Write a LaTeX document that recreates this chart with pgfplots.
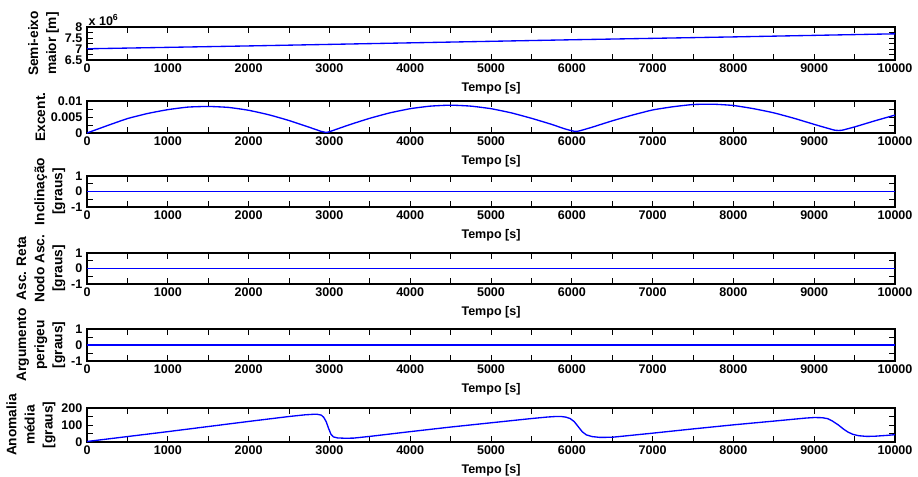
\documentclass[border=0pt]{standalone}
\usepackage{fontspec}
\setmainfont{Liberation Sans}
\usepackage{pgfplots}
\pgfplotsset{compat=1.18}
\newcommand{\myfont}{\bfseries\fontsize{9.4}{12.5}\selectfont}
\newcommand{\ylfont}{\bfseries\fontsize{10.3}{13.6}\selectfont}
\pgfplotsset{
  myax/.style={
    scale only axis, width=606pt, anchor=south west,
    xmin=0, xmax=10000,
    scaled x ticks=false, scaled y ticks=false,
    xtick={0,1000,2000,3000,4000,5000,6000,7000,8000,9000,10000},
    xticklabels={0,1000,2000,3000,4000,5000,6000,7000,8000,9000,10000},
    minor xtick={500,1500,2500,3500,4500,5500,6500,7500,8500,9500},
    tick align=inside,
    major tick length=4.5pt, minor tick length=4.5pt,
    every tick/.style={black, line width=0.6pt},
    every minor tick/.style={black, line width=0.6pt},
    axis line style={line width=0.9pt},
    ticklabel style={font=\myfont},
    xticklabel style={yshift=1pt},
    xlabel={Tempo [s]},
    xlabel style={font=\myfont, yshift=-1pt},
    ylabel style={font=\ylfont, align=center, inner sep=0.8pt},
  },
  ln/.style={blue, line width=1pt, mark=none},
}
\begin{document}
\begin{tikzpicture}
\useasboundingbox (0,0) rectangle (688.5pt,-357pt);
% axis 1
\begin{axis}[myax, at={(65.25pt,-45pt)}, height=24.75pt, clip=false,
  ymin=6.5, ymax=8, ytick={6.5,7,7.5,8}, yticklabels={6.5,7,7.5,8},
  minor ytick={6.75,7.25,7.75},
  ylabel={Semi-eixo\\maior [m]}]
\addplot[ln] coordinates {(0,7.01) (1000,7.075) (2000,7.14) (3000,7.21) (4000,7.28) (5000,7.35) (6000,7.42) (7000,7.485) (8000,7.55) (9000,7.62) (10000,7.69)};
\node[anchor=south west, inner sep=1pt, font=\myfont] at (rel axis cs:0,1) {x 10\textsuperscript{6}};
\end{axis}
% axis 2
\begin{axis}[myax, at={(65.25pt,-99.75pt)}, height=24pt,
  ymin=0, ymax=0.01, ytick={0,0.005,0.01}, yticklabels={0,0.005,0.01},
  minor ytick={0.0025,0.0075},
  ylabel={Excent.}]
\addplot[ln, smooth, tension=0.3] coordinates {(0,0) (250,0.0023) (500,0.0045) (750,0.0061) (1000,0.0073) (1250,0.0081) (1500,0.0083) (1750,0.0080) (2000,0.0071) (2250,0.0057) (2500,0.0039) (2750,0.0018) (2900,0.0005) (2960,0.0002) (3000,0.0004) (3250,0.0026) (3500,0.0046) (3750,0.0063) (4000,0.0076) (4250,0.0084) (4500,0.0087) (4750,0.0084) (5000,0.0076) (5250,0.0063) (5500,0.0046) (5750,0.0027) (5900,0.0014) (6000,0.0007) (6050,0.0005) (6100,0.0007) (6250,0.0018) (6500,0.0038) (6750,0.0056) (7000,0.0072) (7250,0.0082) (7500,0.0089) (7750,0.0090) (8000,0.0086) (8250,0.0076) (8500,0.0063) (8750,0.0046) (9000,0.0027) (9150,0.0016) (9250,0.0009) (9300,0.0008) (9350,0.0009) (9500,0.0019) (9750,0.0038) (10000,0.0056)};
\end{axis}
% axis 3
\begin{axis}[myax, at={(65.25pt,-155.25pt)}, height=23.25pt,
  ymin=-1, ymax=1, ytick={-1,0,1}, yticklabels={-1,0,1}, minor ytick={-0.5,0.5},
  ylabel={Inclinação\\{[graus]}}]
\addplot[ln] coordinates {(0,0) (10000,0)};
\end{axis}
% axis 4
\begin{axis}[myax, at={(65.25pt,-213pt)}, height=23.25pt,
  ymin=-1, ymax=1, ytick={-1,0,1}, yticklabels={-1,0,1}, minor ytick={-0.5,0.5},
  ylabel={Asc. Reta\\Nodo Asc.\\{[graus]}}]
\addplot[ln] coordinates {(0,0) (10000,0)};
\end{axis}
% axis 5
\begin{axis}[myax, at={(65.25pt,-270.75pt)}, height=24pt,
  ymin=-1, ymax=1, ytick={-1,0,1}, yticklabels={-1,0,1}, minor ytick={-0.5,0.5},
  ylabel={Argumento\\perigeu\\{[graus]}}]
\addplot[ln] coordinates {(0,0) (10000,0)};
\end{axis}
% axis 6
\begin{axis}[myax, at={(65.25pt,-331.5pt)}, height=25.5pt,
  ymin=0, ymax=200, ytick={0,100,200}, yticklabels={0,100,200}, minor ytick={50,150},
  ylabel={Anomalia\\média\\{[graus]}}]
\addplot[ln] coordinates {(0,3) (500,32) (1000,61) (1500,91) (2000,121) (2500,150) (2700,160) (2800,163) (2850,163) (2900,158) (2930,145) (2960,120) (2990,80) (3020,45) (3050,30) (3100,24) (3200,22) (3300,23) (3500,33) (4000,61) (4500,88) (5000,113) (5500,138) (5700,147) (5800,150) (5870,150) (5930,146) (5980,138) (6030,120) (6080,90) (6130,60) (6180,42) (6250,32) (6350,27) (6500,28) (7000,52) (7500,77) (8000,101) (8500,123) (8900,141) (9000,144) (9100,143) (9170,137) (9230,122) (9300,100) (9360,77) (9420,58) (9480,45) (9550,37) (9650,33) (9750,34) (9900,39) (10000,43)};
\end{axis}
\end{tikzpicture}
\end{document}
